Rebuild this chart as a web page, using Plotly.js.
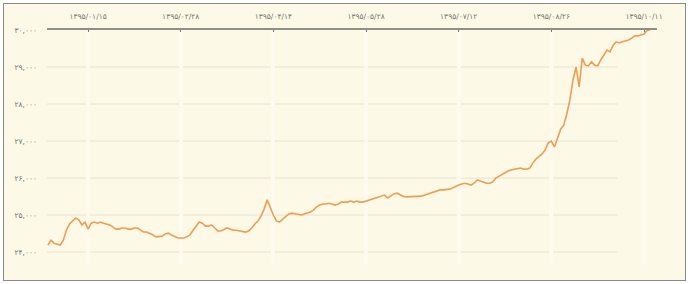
<!DOCTYPE html>
<html>
<head>
<meta charset="utf-8">
<script src="https://cdn.plot.ly/plotly-3.0.1.min.js"></script>
<style>
html,body{margin:0;padding:0;background:#ffffff;width:690px;height:284px;overflow:hidden;}
#frame{position:absolute;left:3px;top:3px;width:681px;height:276px;border:1.5px solid #8a8a86;background:#fdf9e7;}
#plot{position:absolute;left:0;top:0;width:690px;height:284px;}
</style>
</head>
<body>
<div id="frame"></div>
<div id="plot"></div>
<script>
// Trading-day index and index price
const values = [
24190,24320,24240,24210,24190,24320,24600,24760,24840,24920,
24870,24730,24810,24620,24780,24810,24780,24810,24780,24760,
24730,24680,24620,24620,24650,24650,24620,24620,24650,24650,
24590,24540,24540,24510,24460,24410,24430,24430,24490,24510,
24460,24410,24380,24380,24380,24410,24460,24590,24700,24810,
24780,24700,24700,24730,24650,24570,24570,24620,24650,24620,
24590,24590,24570,24570,24540,24570,24650,24760,24840,24970,
25160,25410,25190,25000,24840,24810,24890,24950,25030,25050,
25030,25000,25000,25030,25050,25080,25140,25220,25270,25300,
25300,25320,25300,25270,25300,25350,25350,25350,25380,25350,
25380,25350,25350,25380,25410,25430,25460,25490,25510,25540,
25460,25510,25570,25590,25540,25510,25490,25490,25490,25490,
25510,25510,25540,25570,25590,25620,25650,25680,25680,25680,
25700,25730,25780,25810,25840,25860,25840,25810,25860,25950,
25920,25890,25860,25860,25890,26000,26050,26110,26160,26190,
26220,26240,26270,26270,26240,26240,26270,26410,26510,26590,
26650,26760,26950,27000,26840,27080,27320,27430,27730,28110,
28650,29000,28460,29240,29050,29030,29140,29050,29030,29190,
29320,29460,29410,29590,29680,29650,29680,29700,29730,29780,
29840,29840,29860,29890,29990,30000
];
const days = values.map((_, i) => i);

const xTickVals = [13, 43, 73, 103, 133, 163, 193];
const xTickText = ['۱۳۹۵/۰۱/۱۵','۱۳۹۵/۰۲/۲۸','۱۳۹۵/۰۴/۱۴','۱۳۹۵/۰۵/۲۸','۱۳۹۵/۰۷/۱۲','۱۳۹۵/۰۸/۲۶','۱۳۹۵/۱۰/۱۱'];
const yTickVals = [24000, 25000, 26000, 27000, 28000, 29000, 30000];
const yTickText = ['۲۴,۰۰۰','۲۵,۰۰۰','۲۶,۰۰۰','۲۷,۰۰۰','۲۸,۰۰۰','۲۹,۰۰۰','۳۰,۰۰۰'];

const gridShapes = yTickVals.slice(0, -1).map(v => ({
  type: 'line', xref: 'paper', yref: 'y', x0: 0, x1: 0.935, y0: v, y1: v,
  line: {color: '#e6e3d5', width: 1}, layer: 'below'
}));

const trace = {
  x: days, y: values, type: 'scatter', mode: 'lines',
  line: {color: '#ef9d52', width: 1.6}, hoverinfo: 'skip'
};

const layout = {
  width: 690, height: 284,
  margin: {l: 47, r: 33, t: 30, b: 19},
  paper_bgcolor: 'rgba(0,0,0,0)',
  plot_bgcolor: 'rgba(0,0,0,0)',
  showlegend: false,
  font: {family: 'DejaVu Sans, sans-serif', size: 7.5, color: '#75756f'},
  xaxis: {
    side: 'top', range: [-0.3, 197.2],
    tickmode: 'array', tickvals: xTickVals, ticktext: xTickText,
    showline: true, linecolor: '#8e8e88', linewidth: 2.5,
    ticks: 'inside', ticklen: 2, tickcolor: '#777',
    showgrid: true, gridcolor: '#fefbee', gridwidth: 4,
    zeroline: false, fixedrange: true, ticklabelstandoff: 6
  },
  yaxis: {
    range: [23650, 30000],
    tickmode: 'array', tickvals: yTickVals, ticktext: yTickText,
    showgrid: false, zeroline: false, showline: false,
    ticks: '', fixedrange: true, ticklabelstandoff: 9
  },
  shapes: gridShapes
};

Plotly.newPlot('plot', [trace], layout, {displayModeBar: false, staticPlot: true});
</script>
</body>
</html>
